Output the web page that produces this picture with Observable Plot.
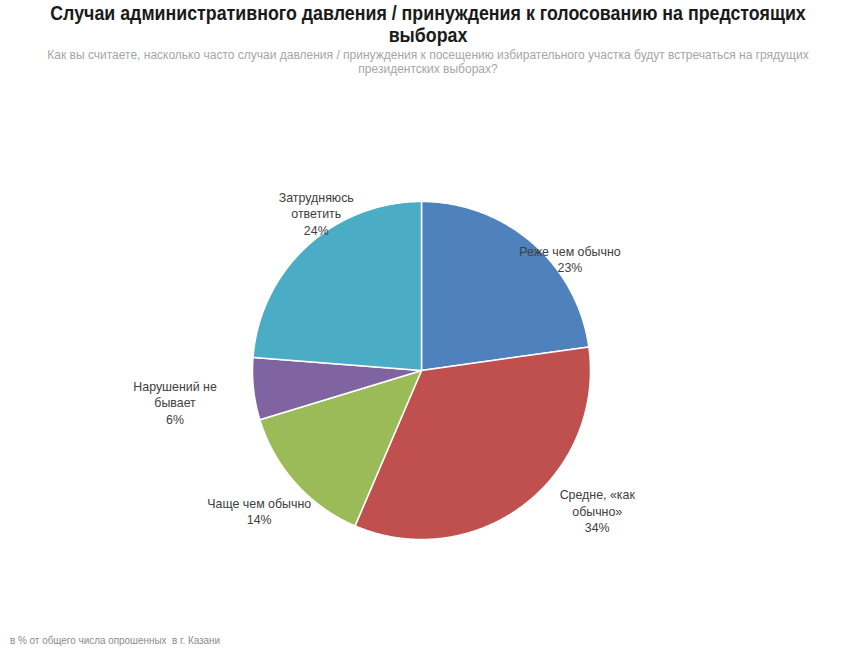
<!DOCTYPE html>
<html>
<head>
<meta charset="utf-8">
<script src="https://cdn.jsdelivr.net/npm/d3@7"></script>
<script src="https://cdn.jsdelivr.net/npm/@observablehq/plot@0.6"></script>
<style>
  html, body { margin: 0; padding: 0; background: #fff; }
  body { width: 855px; height: 649px; overflow: hidden; font-family: "Liberation Sans", Arial, sans-serif; }
  #header { position: relative; height: 80px; }
  .ln { position: absolute; left: 427.5px; white-space: nowrap; transform: translateX(-50%) scaleX(var(--sx)); }
  .title { font-size: 20px; font-weight: bold; line-height: 20px; color: #1a1a1a; --sx: 0.89; }
  .sub { font-size: 12.5px; line-height: 14px; color: #a6a6a6; --sx: 0.96; }
  #caption { padding-left: 10px; font-size: 11px; line-height: 14px; color: #8c8c8c; margin-top: 3px; white-space: nowrap; }
  #caption span { display: inline-block; transform: scaleX(0.9); transform-origin: 0 50%; }
  svg { display: block; }
</style>
</head>
<body>
<div id="header">
  <div class="ln title" style="top:3px">Случаи административного давления / принуждения к голосованию на предстоящих</div>
  <div class="ln title" style="top:25px">выборах</div>
  <div class="ln sub" style="top:48px">Как вы считаете, насколько часто случаи давления / принуждения к посещению избирательного участка будут встречаться на грядущих</div>
  <div class="ln sub" style="top:62px">президентских выборах?</div>
</div>
<div id="chart"></div>
<div id="caption"><span>в % от общего числа опрошенных&nbsp; в г. Казани</span></div>
<script>
// ---- data ----
const categories = ["Реже чем обычно", "Средне, «как обычно»", "Чаще чем обычно", "Нарушений не бывает", "Затрудняюсь ответить"];
const values = [23, 34, 14, 6, 24];
const labelTexts = ["Реже чем обычно", "Средне, «как\nобычно»", "Чаще чем обычно", "Нарушений не\nбывает", "Затрудняюсь\nответить"];
const colors = ["#4F81BD", "#C0504D", "#9BBB59", "#8064A2", "#4BACC6"];

// ---- label layout tweaks (degrees shift from slice middle, radius factor) ----
const labelAngleShift = [12, -14, 1, -1, 9];
const labelRadius = [1.10, 1.33, 1.27, 1.47, 1.12];

const pie = d3.pie().sort(null).value(d => d.value).startAngle(0).endAngle(2 * Math.PI);
const arcs = pie(categories.map((name, i) => ({name, value: values[i], i})));

// polygon points per slice
const pts = [];
arcs.forEach(a => {
  const name = a.data.name;
  pts.push({name, x: 0, y: 0});
  const n = Math.max(2, Math.ceil((a.endAngle - a.startAngle) / 0.01));
  for (let k = 0; k <= n; k++) {
    const t = a.startAngle + (a.endAngle - a.startAngle) * k / n;
    pts.push({name, x: Math.sin(t), y: Math.cos(t)});
  }
  pts.push({name, x: 0, y: 0});
});

const labels = arcs.map(a => {
  const i = a.data.i;
  const mid = (a.startAngle + a.endAngle) / 2 + labelAngleShift[i] * Math.PI / 180;
  const r = labelRadius[i];
  return {
    x: r * Math.sin(mid),
    y: r * Math.cos(mid),
    text: labelTexts[i] + "\n" + Math.round(a.data.value) + "%"
  };
});

const chart = Plot.plot({
  width: 855,
  height: 550,
  x: {domain: [-1, 1], range: [252, 590], axis: null},
  y: {domain: [-1, 1], range: [459, 121], axis: null},
  color: {domain: categories, range: colors},
  style: {fontFamily: "'Liberation Sans', Arial, sans-serif"},
  marks: [
    Plot.line(pts, {x: "x", y: "y", z: "name", fill: "name", stroke: "#ffffff", strokeWidth: 1.5, curve: "linear-closed"}),
    Plot.text(labels, {x: "x", y: "y", text: "text", fill: "#404040", fontSize: 12.4, lineHeight: 1.33, lineAnchor: "middle", textAnchor: "middle"})
  ]
});
document.getElementById("chart").appendChild(chart);
</script>
</body>
</html>
